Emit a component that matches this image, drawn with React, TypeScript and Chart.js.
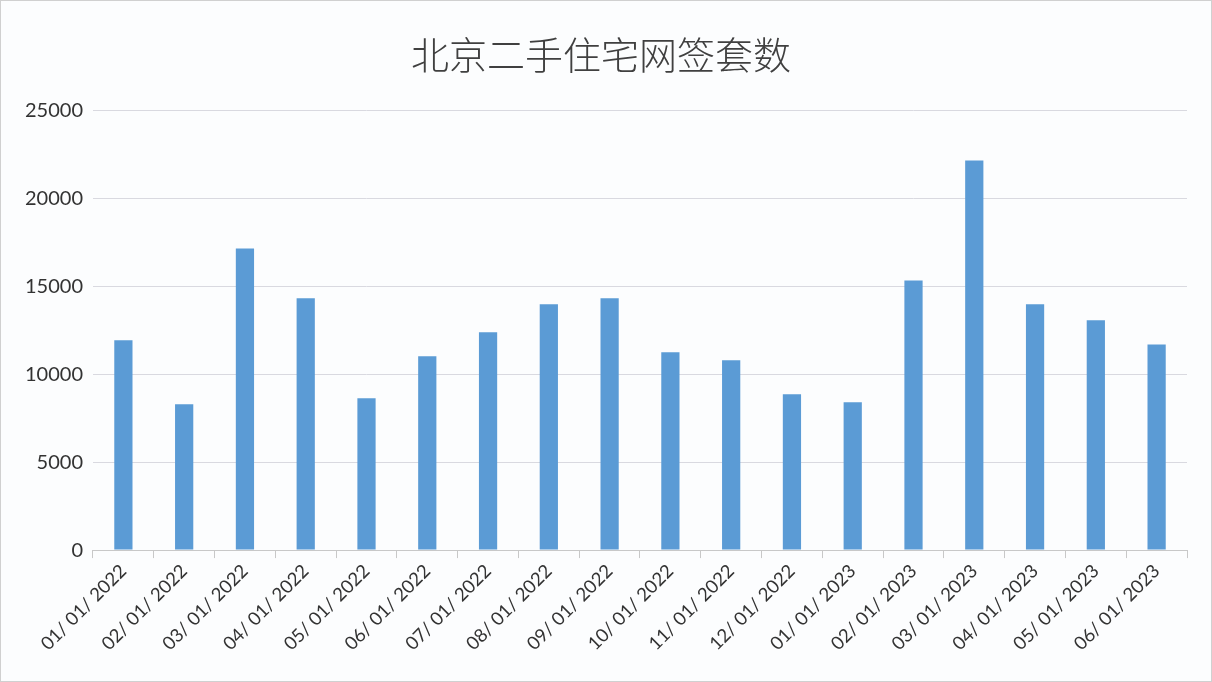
import React, { useEffect, useRef } from "react";
import { Chart, registerables } from "chart.js";

Chart.register(...registerables);

const titleText = "北京二手住宅网签套数";
const categories = [
  "01/ 01/ 2022", "02/ 01/ 2022", "03/ 01/ 2022", "04/ 01/ 2022", "05/ 01/ 2022", "06/ 01/ 2022",
  "07/ 01/ 2022", "08/ 01/ 2022", "09/ 01/ 2022", "10/ 01/ 2022", "11/ 01/ 2022", "12/ 01/ 2022",
  "01/ 01/ 2023", "02/ 01/ 2023", "03/ 01/ 2023", "04/ 01/ 2023", "05/ 01/ 2023", "06/ 01/ 2023",
];
const values = [
  11930, 8300, 17160, 14320, 8640, 11020, 12390, 13980, 14320, 11250, 10800, 8860,
  8410, 15340, 22160, 13980, 13070, 11700,
];
const yMin = 0;
const yMax = 25000;
const yStep = 5000;

const bgPlugin = {
  id: "bgFill",
  beforeDraw(chart: any) {
    const ctx = chart.ctx;
    ctx.save();
    ctx.fillStyle = "#fcfdfe";
    ctx.fillRect(0, 0, chart.width, chart.height);
    ctx.restore();
  },
};

export default function App() {
  const ref = useRef<HTMLCanvasElement | null>(null);
  useEffect(() => {
    document.body.style.margin = "0";
    const canvas = ref.current;
    if (!canvas) return;
    const chart = new Chart(canvas, {
      type: "bar",
      data: {
        labels: categories,
        datasets: [
          {
            data: values,
            backgroundColor: "#5b9bd5",
            borderColor: "#4f8fcc",
            borderWidth: 0,
            barPercentage: 0.6,
            categoryPercentage: 0.5,
          },
        ],
      },
      options: {
        animation: false,
        responsive: false,
        maintainAspectRatio: false,
        layout: { padding: { left: 14, right: 24, top: 10, bottom: 24 } },
        plugins: {
          legend: { display: false },
          tooltip: { enabled: false },
          title: {
            display: true,
            text: titleText,
            color: "#404040",
            font: { family: "'Noto Sans CJK SC', sans-serif", size: 38, weight: "300" },
            padding: { top: 21, bottom: 33 },
          },
        },
        scales: {
          x: {
            grid: {
              display: true,
              drawOnChartArea: false,
              drawTicks: true,
              tickLength: 8,
              color: "#c8c8c8",
              offset: true,
            },
            border: { display: true, color: "#c8c8c8", width: 1 },
            ticks: {
              autoSkip: false,
              maxRotation: 45,
              minRotation: 45,
              color: "#333333",
              padding: 2,
              font: { family: "Lato, sans-serif", size: 18.5 },
            },
          },
          y: {
            min: yMin,
            max: yMax,
            ticks: {
              stepSize: yStep,
              color: "#333333",
              padding: 10,
              font: { family: "Lato, sans-serif", size: 20 },
              callback: (v: any) => String(v),
            },
            grid: { color: "#d9d9e0", drawTicks: false },
            border: { display: false },
          },
        },
      },
      plugins: [bgPlugin],
    });
    return () => chart.destroy();
  }, []);
  return (
    <div
      style={{
        width: 1212,
        height: 682,
        boxSizing: "border-box",
        border: "1px solid #d0d0d0",
        background: "#fcfdfe",
      }}
    >
      <canvas ref={ref} width={1210} height={680} style={{ display: "block" }} />
    </div>
  );
}
